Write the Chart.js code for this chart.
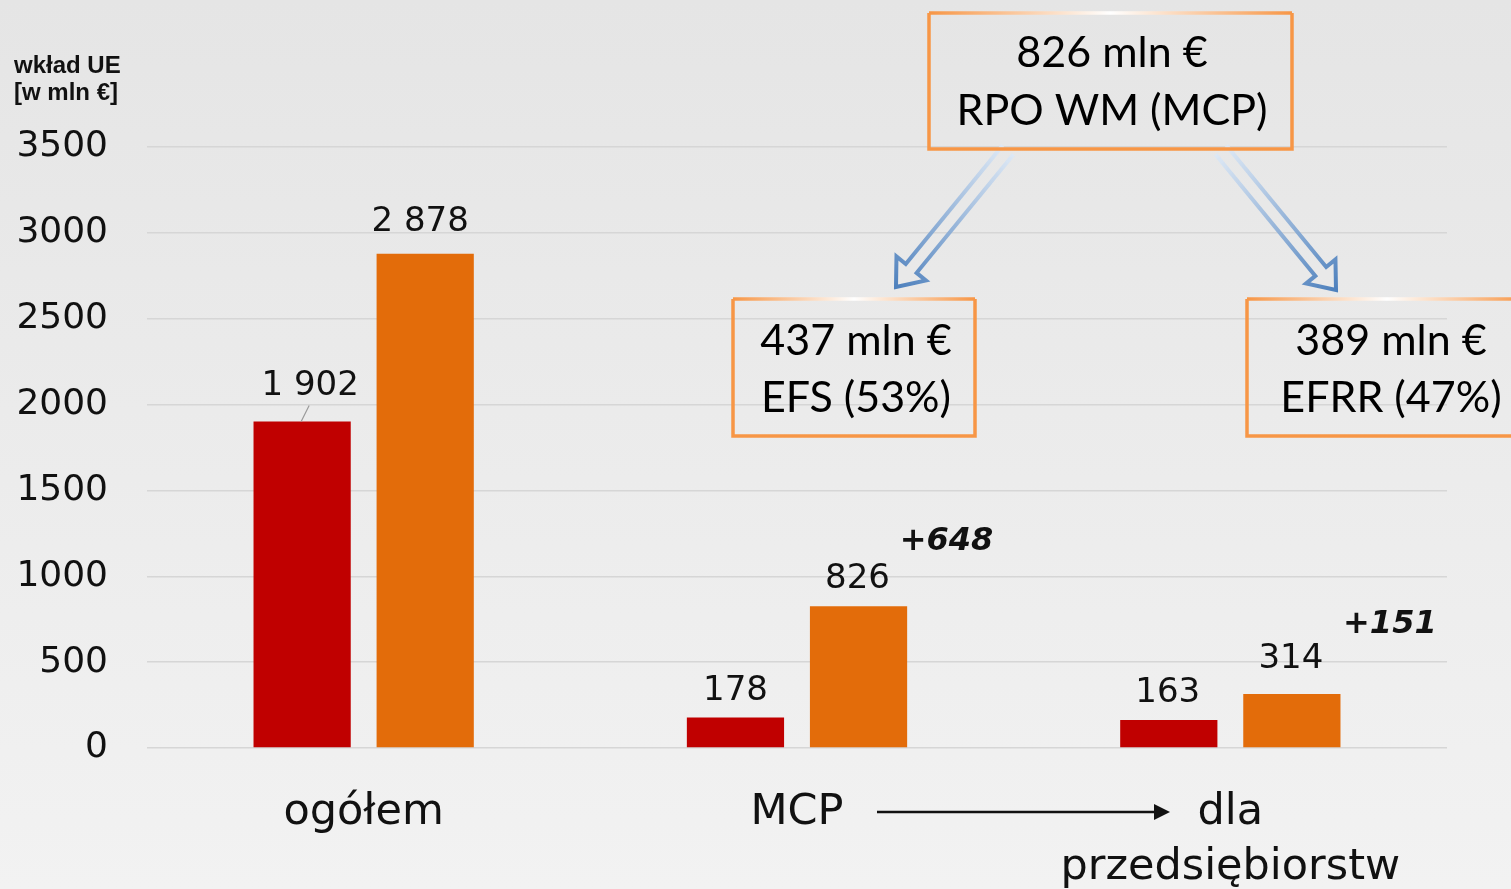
<!DOCTYPE html>
<html>
<head>
<meta charset="utf-8">
<script src="https://cdn.jsdelivr.net/npm/chart.js@4"></script>
<style>
  html, body { margin: 0; padding: 0; }
  body { background: linear-gradient(#e5e5e5, #f2f2f2); }
  #wrap { position: relative; width: 1511px; height: 889px; }
</style>
</head>
<body>
<div id="wrap"><canvas id="chart"></canvas></div>
<script>
// dane (wkład UE, mln €)
const categories = ['ogółem', 'MCP', ['dla', 'przedsiębiorstw']]
const redValues = [1902, 178, 163]
const orangeValues = [2878, 826, 314]
const yMin = 0
const yMax = 3500
const yStep = 500

const RED = '#c00000'
const ORANGE = '#e36c0a'

function fmt(v) {
    return String(v).replace(/\B(?=(\d{3})+(?!\d))/g, ' ')
}

// etykiety nad słupkami + adnotacje
const annotPlugin = {
    id: 'annot',
    afterDatasetsDraw(chart) {
        const ctx = chart.ctx
        ctx.save()
        ctx.fillStyle = '#111'
        ctx.font = '34px "DejaVu Sans"'
        ctx.textAlign = 'center'
        ctx.textBaseline = 'middle'
        // przesunięcia etykiet względem szczytu słupka
        const offs = [
            [[8, -35], [0, -26], [-1, -27]],
            [[-5, -32], [-1, -27], [-1, -35]]
        ]
        chart.data.datasets.forEach((ds, di) => {
            chart.getDatasetMeta(di).data.forEach((bar, i) => {
                const o = offs[di][i]
                ctx.fillText(fmt(ds.data[i]), bar.x + o[0], bar.y + o[1])
            })
        })
        // linia odniesienia dla 1 902
        const b0 = chart.getDatasetMeta(0).data[0]
        ctx.strokeStyle = '#999'
        ctx.lineWidth = 1.2
        ctx.beginPath()
        ctx.moveTo(b0.x + 7, b0.y - 16)
        ctx.lineTo(b0.x - 1, b0.y)
        ctx.stroke()

        // przyrosty +648, +151
        ctx.font = 'italic bold 32px "DejaVu Sans"'
        const metaO = chart.getDatasetMeta(1).data
        ;[1, 2].forEach(i => {
            const diff = orangeValues[i] - redValues[i]
            const bar = metaO[i]
            const dx = i === 1 ? 88 : 98
            const dy = i === 1 ? -64 : -69
            ctx.fillText('+' + diff, bar.x + dx, bar.y + dy)
        })
        ctx.restore()
    },
    afterDraw(chart) {
        const ctx = chart.ctx
        ctx.save()

        // nagłówek osi Y
        ctx.fillStyle = '#111'
        ctx.font = 'bold 24px "Liberation Sans"'
        ctx.textAlign = 'left'
        ctx.textBaseline = 'middle'
        ctx.fillText('wkład UE', 14, 66)
        ctx.fillText('[w mln €]', 14, 93)

        // strzałki niebieskie
        drawHollowArrow(ctx, 1008, 150, 896, 287)
        drawHollowArrow(ctx, 1221, 150, 1336, 290)

        // ramki
        drawBox(ctx, 929, 13, 363, 136, ['826 mln €', 'RPO WM (MCP)'], 1112, [53, 111])
        drawBox(ctx, 733, 299, 242, 137, ['437 mln €', 'EFS (53%)'], 856, [341, 398])
        drawBox(ctx, 1247, 299, 280, 137, ['389 mln €', 'EFRR (47%)'], 1391, [341, 398])

        // strzałka MCP -> dla przedsiębiorstw
        ctx.strokeStyle = '#111'
        ctx.fillStyle = '#111'
        ctx.lineWidth = 2.5
        ctx.beginPath()
        ctx.moveTo(877, 812)
        ctx.lineTo(1158, 812)
        ctx.stroke()
        ctx.beginPath()
        ctx.moveTo(1170, 812)
        ctx.lineTo(1154, 804)
        ctx.lineTo(1154, 820)
        ctx.closePath()
        ctx.fill()

        ctx.restore()
    }
}

function drawBox(ctx, x, y, w, h, lines, cx, ys) {
    ctx.save()
    ctx.lineWidth = 3.5
    ctx.strokeStyle = '#f79646'
    ctx.beginPath()
    ctx.moveTo(x, y)
    ctx.lineTo(x, y + h)
    ctx.lineTo(x + w, y + h)
    ctx.lineTo(x + w, y)
    ctx.stroke()
    const g = ctx.createLinearGradient(x, 0, x + w, 0)
    g.addColorStop(0, '#f79646')
    g.addColorStop(0.5, '#ffffff')
    g.addColorStop(1, '#f79646')
    ctx.strokeStyle = g
    ctx.beginPath()
    ctx.moveTo(x, y)
    ctx.lineTo(x + w, y)
    ctx.stroke()
    ctx.fillStyle = '#000'
    ctx.font = '43px Lato'
    ctx.textAlign = 'center'
    ctx.textBaseline = 'middle'
    lines.forEach((t, i) => ctx.fillText(t, cx, ys[i]))
    ctx.restore()
}

function drawHollowArrow(ctx, sx, sy, tx, ty) {
    const len = Math.hypot(tx - sx, ty - sy)
    const dx = (tx - sx) / len, dy = (ty - sy) / len
    const nx = -dy, ny = dx
    const w = 7, hw = 19, hl = 24
    const bx = tx - dx * hl, by = ty - dy * hl
    const pts = [
        [sx + nx * w, sy + ny * w],
        [bx + nx * w, by + ny * w],
        [bx + nx * hw, by + ny * hw],
        [tx, ty],
        [bx - nx * hw, by - ny * hw],
        [bx - nx * w, by - ny * w],
        [sx - nx * w, sy - ny * w]
    ]
    const g = ctx.createLinearGradient(sx, sy, tx, ty)
    g.addColorStop(0, 'rgba(220,232,246,0.9)')
    g.addColorStop(1, '#4f81bd')
    ctx.save()
    ctx.strokeStyle = g
    ctx.lineWidth = 4
    ctx.lineJoin = 'miter'
    ctx.beginPath()
    pts.forEach((p, i) => i ? ctx.lineTo(p[0], p[1]) : ctx.moveTo(p[0], p[1]))
    ctx.stroke()
    ctx.restore()
}

new Chart(document.getElementById('chart'), {
    type: 'bar',
    data: {
        labels: categories,
        datasets: [
            { label: 'seria 1', data: redValues, backgroundColor: RED },
            { label: 'seria 2', data: orangeValues, backgroundColor: ORANGE }
        ]
    },
    options: {
        responsive: true,
        maintainAspectRatio: false,
        animation: false,
        categoryPercentage: 0.568,
        barPercentage: 0.79,
        layout: { padding: { top: 147, right: 64, left: 0, bottom: 0 } },
        plugins: {
            legend: { display: false },
            tooltip: { enabled: false }
        },
        scales: {
            x: {
                grid: { display: false },
                border: { display: false },
                ticks: {
                    color: '#111',
                    font: { family: 'DejaVu Sans', size: 43, lineHeight: 1.27 },
                    padding: 30,
                    maxRotation: 0,
                    autoSkip: false
                },
                afterFit: s => { s.height = 141 }
            },
            y: {
                min: yMin,
                max: yMax,
                grid: { color: '#d6d6d6', lineWidth: 1.5, drawTicks: false },
                border: { display: false },
                ticks: {
                    stepSize: yStep,
                    color: '#111',
                    font: { family: 'DejaVu Sans', size: 36 },
                    padding: 39,
                    callback: v => String(v)
                },
                afterFit: s => { s.width = 147 }
            }
        }
    },
    plugins: [annotPlugin]
})
</script>
</body>
</html>
